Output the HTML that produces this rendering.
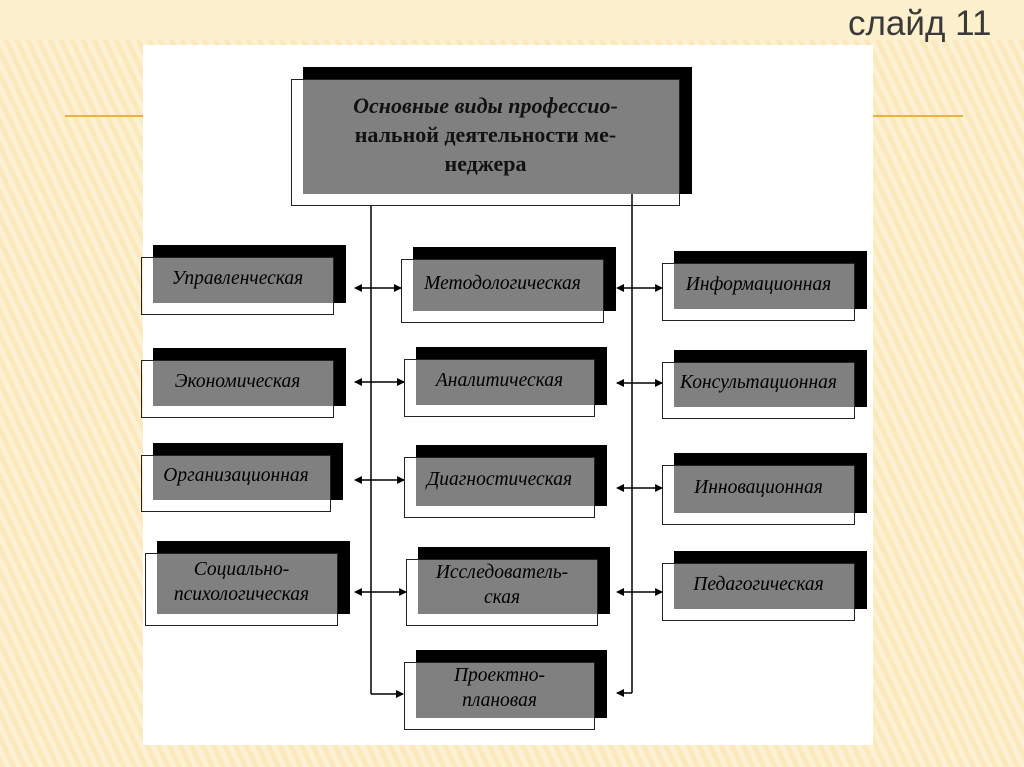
<!DOCTYPE html>
<html><head><meta charset="utf-8"><style>
body{margin:0;width:1024px;height:767px;overflow:hidden;position:relative;
background:repeating-linear-gradient(65deg,#fbe9bd 0 5px,#fdf1d4 5px 10px);
font-family:"Liberation Serif",serif;}
.top{position:absolute;left:0;top:0;width:1024px;height:40px;background:#fdf0cc}
.t{position:absolute;left:848px;top:4px;font:35px "Liberation Sans",sans-serif;color:#3a3a3a}
.ln{position:absolute;height:2px;background:#f0b040;top:115px}
.panel{position:absolute;left:143px;top:45px;width:730px;height:700px;background:#fff}
.b{position:absolute;background:#000}
.g{position:absolute;background:#808080}
.o{position:absolute;border:1.5px solid #222;box-sizing:border-box}
.x{position:absolute;display:flex;align-items:center;justify-content:center;text-align:center;font-style:italic;font-size:19.5px;color:#000;line-height:25px}
</style></head><body>
<div class="top"></div>
<div class="t">слайд 11</div>
<div class="ln" style="left:65px;width:80px"></div>
<div class="ln" style="left:873px;width:90px"></div>
<div class="panel"></div>
<svg width="1024" height="767" style="position:absolute;left:0;top:0">
<defs><marker id="a" markerWidth="8" markerHeight="8" refX="7" refY="4" orient="auto-start-reverse" markerUnits="userSpaceOnUse"><path d="M0,0L8,4L0,8z" fill="#000"/></marker></defs>
<g id="nodes"></g>
</svg>
<div id="c"></div>
<script>
var N=[
[303,67,692,194,"<b><i>Основные виды профессио-</i><br>нальной деятельности ме-<br>неджера</b>",22],
[153,245,346,303,"Управленческая"],
[153,348,346,406,"Экономическая"],
[153,443,343,500,"Организационная"],
[157,541,350,614,"Социально-<br>психологическая"],
[413,247,616,311,"Методологическая"],
[416,347,607,405,"Аналитическая"],
[416,445,607,506,"Диагностическая"],
[418,547,610,614,"Исследователь-<br>ская"],
[416,650,607,718,"Проектно-<br>плановая"],
[674,251,867,309,"Информационная"],
[674,350,867,407,"Консультационная"],
[674,453,867,513,"Инновационная"],
[674,551,867,609,"Педагогическая"]];
var h="";
N.forEach(function(n){var x1=n[0],y1=n[1],x2=n[2],y2=n[3];
h+='<div class="b" style="left:'+x1+'px;top:'+y1+'px;width:'+(x2-x1)+'px;height:'+(y2-y1)+'px"></div>';
h+='<div class="g" style="left:'+x1+'px;top:'+(y1+12)+'px;width:'+(x2-x1-12)+'px;height:'+(y2-y1-12)+'px"></div>';
h+='<div class="o" style="left:'+(x1-12)+'px;top:'+(y1+12)+'px;width:'+(x2-x1-0)+'px;height:'+(y2-y1)+'px"></div>';
h+='<div class="x" style="left:'+(x1-12)+'px;top:'+(y1+8)+'px;width:'+(x2-x1)+'px;height:'+(y2-y1-8)+'px;'+(n[5]?'font-size:22px;font-style:normal;line-height:29px;color:#111':'')+'">'+n[4]+'</div>';});
document.getElementById("c").innerHTML=h;
var s='<line x1="371" y1="206" x2="371" y2="694" stroke="#000" stroke-width="1.5"/><line x1="632" y1="194" x2="632" y2="693" stroke="#000" stroke-width="1.5"/>';
s+='<polyline points="371,694 403,694" fill="none" stroke="#000" stroke-width="1.5" marker-end="url(#a)"/>';
s+='<polyline points="632,693 617,693" fill="none" stroke="#000" stroke-width="1.5" marker-end="url(#a)"/>';
[[355,401,288],[355,404,382],[355,404,480],[355,406,592],[617,662,288],[617,662,383],[617,662,488],[617,662,592]].forEach(function(a){
s+='<line x1="'+a[0]+'" y1="'+a[2]+'" x2="'+a[1]+'" y2="'+a[2]+'" stroke="#000" stroke-width="1.5" marker-start="url(#a)" marker-end="url(#a)"/>';});
document.getElementById("nodes").innerHTML=s;
</script>
</body></html>
